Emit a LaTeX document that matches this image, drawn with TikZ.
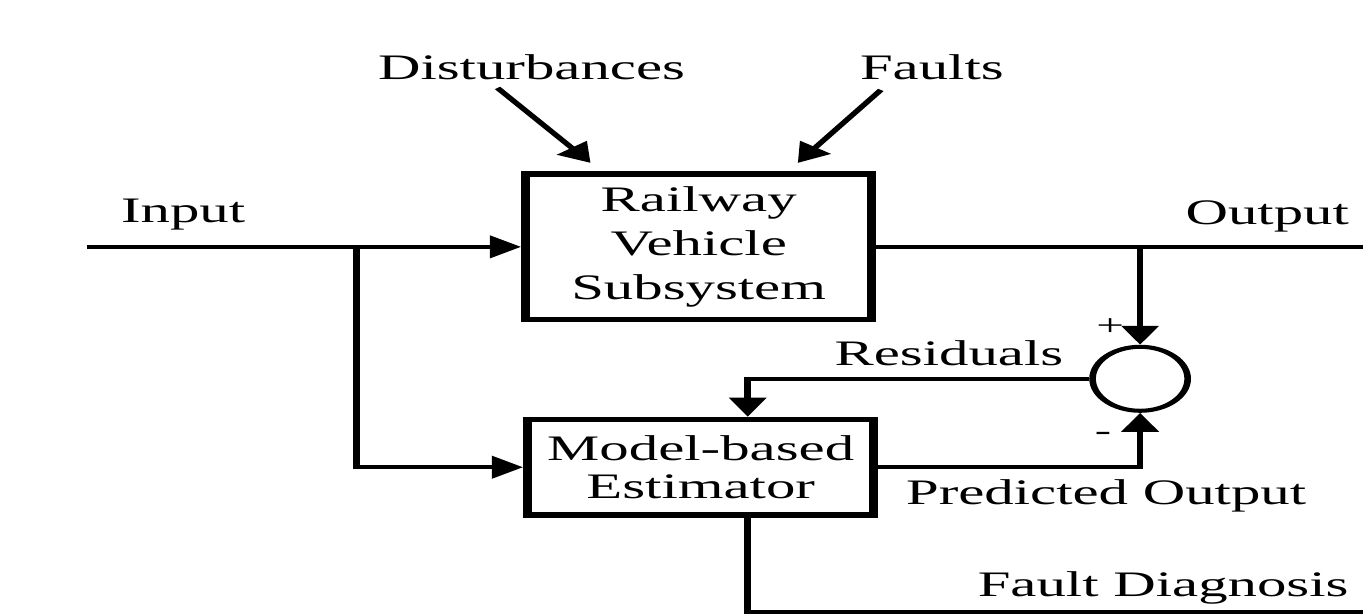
\documentclass[tikz,border=0pt]{standalone}
\usepackage{fontspec}
\setmainfont{Liberation Serif}
\usetikzlibrary{arrows.meta,shapes.geometric,calc}

\begin{document}
\begin{tikzpicture}[
    blk/.style={draw,line width=1.6pt,minimum width=2.11cm,align=center,inner sep=0pt},
    lbl/.style={anchor=base},
    sgn/.style={font=\fontsize{8.5}{8.5}\selectfont,inner sep=0pt},
    arr/.style={-{Triangle[length=0.19cm,width=0.22cm]}},
    font=\fontsize{10.2}{12.4}\selectfont,
    line width=1.15pt]
\useasboundingbox (0,0) rectangle (13.63,-6.15);
\begin{scope}[transform canvas={xscale=1.64},x=0.0060976cm,y=-0.01cm]
  % blocks
  \node[blk,minimum height=1.454cm] (rvs) at (698,247) {Railway\\Vehicle\\Subsystem};
  \node[blk,minimum height=0.954cm,font=\fontsize{10.2}{10.6}\selectfont] (est) at (700,467.5) {Model-based\\Estimator};
  \node[draw,ellipse,minimum width=0.58cm,minimum height=0.64cm,inner sep=0pt] (sum) at (1139,379) {};
  % labels
  \node[lbl] (dist) at (531,80) {Disturbances};
  \node[lbl] (flt) at (931,80) {Faults};
  \node[lbl] (inlbl) at (183,223) {Input};
  \node[lbl] (outlbl) at (1266,225) {Output};
  \node[lbl] (reslbl) at (948,366) {Residuals};
  \node[lbl] (predlbl) at (1105,505) {Predicted Output};
  \node[lbl] (fdlbl) at (1162,597) {Fault Diagnosis};
  \node[sgn] (plus) at (1109,327) {+};
  \node[sgn] (minus) at (1102,437) {-};
  % free ends
  \coordinate (in) at (87,247);
  \coordinate (split) at (356,247);
  \coordinate (out) at (1363,247);
  \coordinate (fd) at (1363,612);
  \coordinate (dist-a) at (497,88);
  \coordinate (dist-b) at (590,163);
  \coordinate (flt-a) at (880,90);
  \coordinate (flt-b) at (797,163);
  % connectors
  \draw[arr] (dist-a) -- (dist-b);
  \draw[arr] (flt-a) -- (flt-b);
  \draw[arr] (in) -- (rvs);
  \draw[arr] (split) |- (est);
  \draw (rvs) -- (out);
  \draw[arr] (sum |- out) -- (sum);
  \draw[arr] (sum) -| ($(est.north)+(47,0)$);
  \draw[arr] (est) -| (sum);
  \draw ($(est.south)+(47,0)$) |- (fd);
\end{scope}
\end{tikzpicture}
\end{document}
